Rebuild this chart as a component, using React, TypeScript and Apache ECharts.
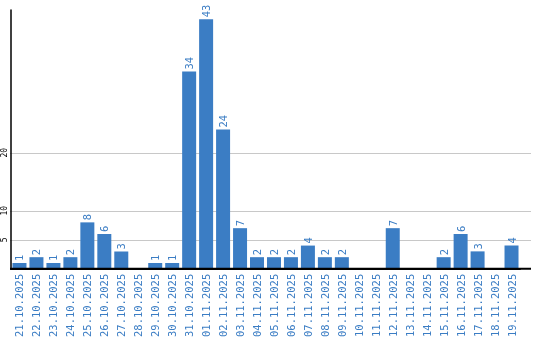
import React, { useEffect, useRef } from "react";
import * as echarts from "echarts";

const categories = [
  "21.10.2025", "22.10.2025", "23.10.2025", "24.10.2025", "25.10.2025",
  "26.10.2025", "27.10.2025", "28.10.2025", "29.10.2025", "30.10.2025",
  "31.10.2025", "01.11.2025", "02.11.2025", "03.11.2025", "04.11.2025",
  "05.11.2025", "06.11.2025", "07.11.2025", "08.11.2025", "09.11.2025",
  "10.11.2025", "11.11.2025", "12.11.2025", "13.11.2025", "14.11.2025",
  "15.11.2025", "16.11.2025", "17.11.2025", "18.11.2025", "19.11.2025",
];
const values = [1, 2, 1, 2, 8, 6, 3, 0, 1, 1, 34, 43, 24, 7, 2, 2, 2, 4, 2, 2, 0, 0, 7, 0, 0, 2, 6, 3, 0, 4];
const yTicks = [5, 10, 20];

const BLUE = "#3b7dc4";
const FONT = "DejaVu Sans Mono";
const Y_MAX = 44.6;

export default function App() {
  const ref = useRef<HTMLDivElement>(null);
  useEffect(() => {
    const chart = echarts.init(ref.current!, null, { renderer: "svg" });
    chart.setOption({
      animation: false,
      grid: { left: 10, right: 20, top: 10, bottom: 70, containLabel: false },
      xAxis: {
        type: "category",
        data: categories,
        axisLine: { show: true, lineStyle: { color: "#000", width: 2 } },
        axisTick: { show: false },
        axisLabel: {
          rotate: 90,
          interval: 0,
          color: BLUE,
          fontFamily: FONT,
          fontSize: 10.5,
          margin: 5,
        },
        z: 5,
      },
      yAxis: {
        type: "value",
        min: 0,
        max: Y_MAX,
        splitLine: { show: false },
        axisLine: { show: true, lineStyle: { color: "#000", width: 1.5 } },
        axisTick: { show: false },
        axisLabel: {
          customValues: yTicks,
          rotate: 90,
          color: "#000",
          fontFamily: FONT,
          fontSize: 8,
          margin: 3,
        },
        z: 5,
      },
      series: [
        {
          type: "bar",
          data: values,
          barWidth: 14,
          itemStyle: { color: BLUE },
          label: {
            show: true,
            position: "top",
            rotate: 90,
            align: "left",
            verticalAlign: "middle",
            distance: 2,
            color: BLUE,
            fontFamily: FONT,
            fontSize: 10.5,
            formatter: (p: any) => (p.value === 0 ? "" : String(p.value)),
          },
          z: 2,
        },
      ],
    });
    const y0 = chart.convertToPixel({ yAxisIndex: 0 }, 0) as number;
    const xLeft = chart.convertToPixel({ xAxisIndex: 0 }, categories[0]) as number;
    const gridLeft = 10;
    const xEnd = 531;
    chart.setOption({
      graphic: [
        ...yTicks.map((v) => {
          const y = Math.round(chart.convertToPixel({ yAxisIndex: 0 }, v) as number) + 0.5;
          return {
            type: "line",
            silent: true,
            shape: { x1: gridLeft, y1: y, x2: xEnd, y2: y },
            style: { stroke: "#c8c8c8", lineWidth: 1 },
            z: -1,
            zlevel: 0,
          };
        }),
        {
          type: "line",
          silent: true,
          shape: { x1: gridLeft, y1: y0, x2: xEnd, y2: y0 },
          style: { stroke: "#000", lineWidth: 2 },
          z: 10,
        },
      ],
    });
    void xLeft;
    return () => chart.dispose();
  }, []);
  return (
    <div
      ref={ref}
      style={{ position: "fixed", left: 0, top: 0, width: 540, height: 340 }}
    />
  );
}
